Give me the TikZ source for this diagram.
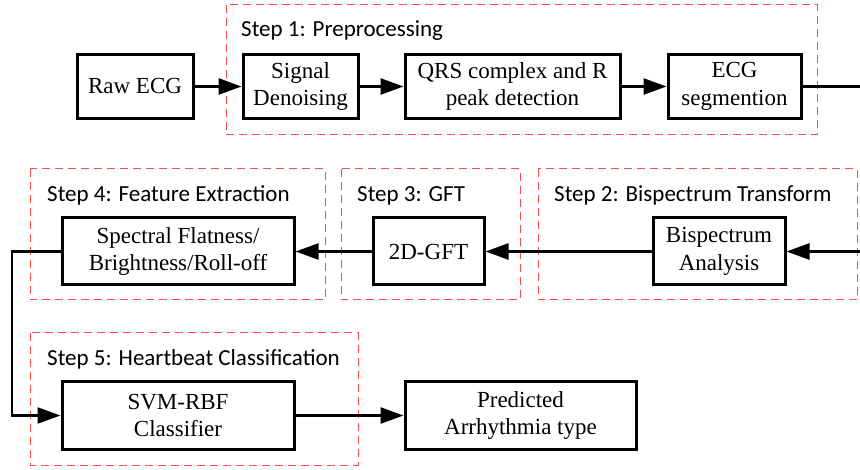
\documentclass[tikz,border=0pt]{standalone}
\usepackage{fontspec}
\setmainfont{Liberation Serif}
\newfontfamily\labelfont{Carlito}
\usetikzlibrary{arrows.meta}
\definecolor{stepred}{RGB}{255,75,75}
\begin{document}
\begin{tikzpicture}[x=1pt,y=-1pt,
  box/.style={draw, line width=3pt, align=center, inner sep=0pt,
    font=\fontsize{23}{27.5}\selectfont},
  stepframe/.style={draw=stepred, line width=1pt, dash pattern=on 8pt off 5pt},
  steplabel/.style={anchor=base west, inner sep=0pt, font=\labelfont\fontsize{23}{27}\selectfont},
  flow/.style={line width=2.7pt, -{Triangle[length=23pt,width=16pt]}},
  thinflow/.style={flow, line width=2.3pt},
  plain/.style={line width=2.7pt}]
\clip (0,0) rectangle (860,470);
\fill[white] (0,0) rectangle (860,470);

% dashed step frames
\draw[stepframe] (226,5) rectangle (817,135);
\draw[stepframe] (30,169) rectangle (325,300);
\draw[stepframe] (341,169) rectangle (520,300);
\draw[stepframe] (538,169) rectangle (857,300);
\draw[stepframe] (30,333) rectangle (358,465);

\node[steplabel] (l1) at (241,37) {Step 1: Preprocessing};
\node[steplabel] (l4) at (47,202) {Step 4: Feature Extraction};
\node[steplabel] (l3) at (357,202) {Step 3: GFT};
\node[steplabel] (l2) at (554,202) {Step 2: Bispectrum Transform};
\node[steplabel] (l5) at (47,366) {Step 5: Heartbeat Classification};

% processing blocks
\node[box, minimum width=116pt, minimum height=64pt] (raw) at (135,86.5) {Raw ECG};
\node[box, minimum width=115pt, minimum height=64pt] (den) at (300.5,86.5) {Signal\\Denoising};
\node[box, minimum width=215pt, minimum height=64pt] (qrs) at (512.5,86.5) {QRS complex and R\\peak detection};
\node[box, minimum width=133pt, minimum height=64pt] (seg) at (734.5,86.5) {ECG\\segmention};

\node[box, minimum width=232pt, minimum height=67pt] (feat) at (178,251.5) {Spectral Flatness/\\Brightness/Roll-off};
\node[box, minimum width=111pt, minimum height=67pt] (gft) at (428.5,251.5) {2D-GFT};
\node[box, minimum width=132pt, minimum height=67pt] (bis) at (719,251.5) {Bispectrum\\Analysis};

\node[box, minimum width=232pt, minimum height=67pt] (svm) at (178,415.5) {SVM-RBF\\Classifier};
\node[box, minimum width=231pt, minimum height=67pt] (pred) at (520.5,415.5) {Predicted\\Arrhythmia type};

% connectors
\coordinate (turnA) at (880,86.5);
\coordinate (turnB) at (880,251.5);
\coordinate (turnC) at (12,251.5);
\coordinate (turnD) at (12,415.5);

\draw[flow] (raw) -- (den);
\draw[flow] (den) -- (qrs);
\draw[flow] (qrs) -- (seg);
\draw[plain] (seg.east) -- (turnA) -- (turnB);
\draw[flow] (turnB) -- (bis.east);
\draw[thinflow] (bis) -- (gft);
\draw[thinflow] (gft) -- (feat);
\draw[thinflow] (feat.west) -- (turnC) -- (turnD) -- (svm.west);
\draw[flow] (svm) -- (pred);
\end{tikzpicture}
\end{document}
